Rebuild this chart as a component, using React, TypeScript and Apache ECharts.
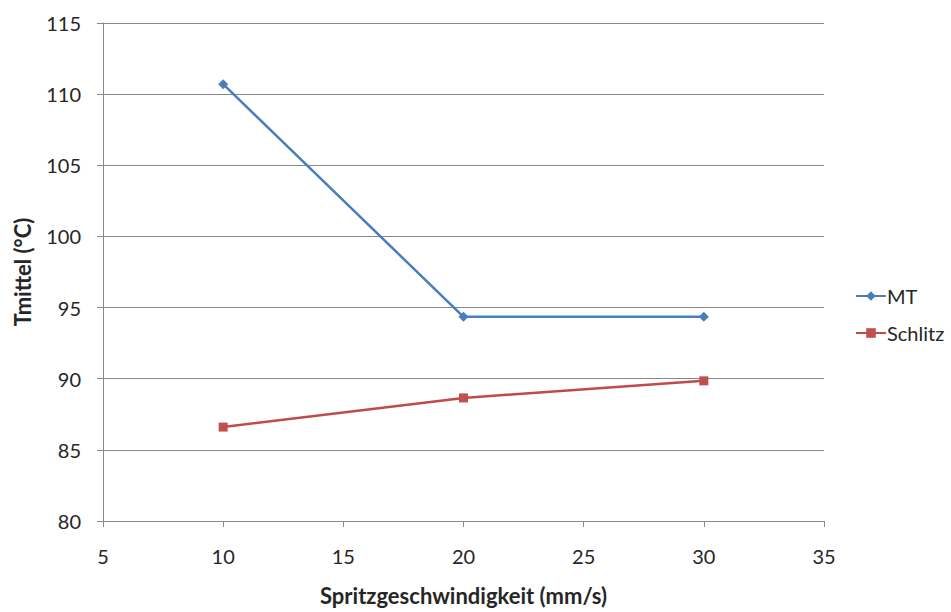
import React, { useEffect, useRef } from "react";
import * as echarts from "echarts";

const speeds = [10, 20, 30];
const mtValues = [110.7, 94.35, 94.35];
const schlitzValues = [86.6, 88.65, 89.85];
const xTicks = { min: 5, max: 35, interval: 5 };
const yTicks = { min: 80, max: 115, interval: 5 };

const FONT = "Lato, 'Open Sans', 'Liberation Sans', sans-serif";

export default function App() {
  const ref = useRef<HTMLDivElement>(null);
  useEffect(() => {
    if (!ref.current) return;
    const chart = echarts.init(ref.current, null, { renderer: "svg" });
    chart.setOption({
      animation: false,
      backgroundColor: "#ffffff",
      textStyle: { fontFamily: FONT },
      grid: { left: 103, top: 23, right: 127, bottom: 91, containLabel: false },
      legend: {
        orient: "vertical",
        left: 855,
        top: 286,
        padding: 0,
        itemWidth: 30,
        itemHeight: 12,
        itemGap: 17,
        textStyle: { fontFamily: FONT, fontSize: 20, color: "#262626", padding: [0, 0, 0, -4] },
        data: ["MT", "Schlitz"],
      },
      xAxis: {
        type: "value",
        min: xTicks.min,
        max: xTicks.max,
        interval: xTicks.interval,
        name: "Spritzgeschwindigkeit (mm/s)",
        nameLocation: "middle",
        nameGap: 63,
        nameTextStyle: { fontFamily: FONT, fontSize: 22, fontWeight: "bold", color: "#262626" },
        axisLine: { lineStyle: { color: "#898989", width: 1 } },
        axisTick: { show: true, length: 6, lineStyle: { color: "#898989" } },
        axisLabel: { fontFamily: FONT, fontSize: 20, color: "#262626", margin: 25 },
        splitLine: { show: false },
      },
      yAxis: {
        type: "value",
        min: yTicks.min,
        max: yTicks.max,
        interval: yTicks.interval,
        name: "Tmittel (°C)",
        nameLocation: "middle",
        nameGap: 70,
        nameRotate: 90,
        nameTextStyle: { fontFamily: FONT, fontSize: 22, fontWeight: "bold", color: "#262626" },
        axisLine: { show: true, lineStyle: { color: "#898989", width: 1 } },
        axisTick: { show: true, length: 6, lineStyle: { color: "#898989" } },
        axisLabel: { fontFamily: FONT, fontSize: 20, color: "#262626", margin: 22 },
        splitLine: { show: true, lineStyle: { color: "#898989", width: 1 } },
      },
      series: [
        {
          name: "MT",
          type: "line",
          data: speeds.map((s, i) => [s, mtValues[i]]),
          symbol: "diamond",
          symbolSize: 10,
          lineStyle: { color: "#4A7EBB", width: 2.5 },
          itemStyle: { color: "#4A7EBB" },
        },
        {
          name: "Schlitz",
          type: "line",
          data: speeds.map((s, i) => [s, schlitzValues[i]]),
          symbol: "rect",
          symbolSize: 9,
          lineStyle: { color: "#BE4B48", width: 2.5 },
          itemStyle: { color: "#C0504D" },
        },
      ],
    });
    return () => chart.dispose();
  }, []);
  return (
    <div
      ref={ref}
      style={{ position: "fixed", left: 0, top: 0, width: 951, height: 612 }}
    />
  );
}
